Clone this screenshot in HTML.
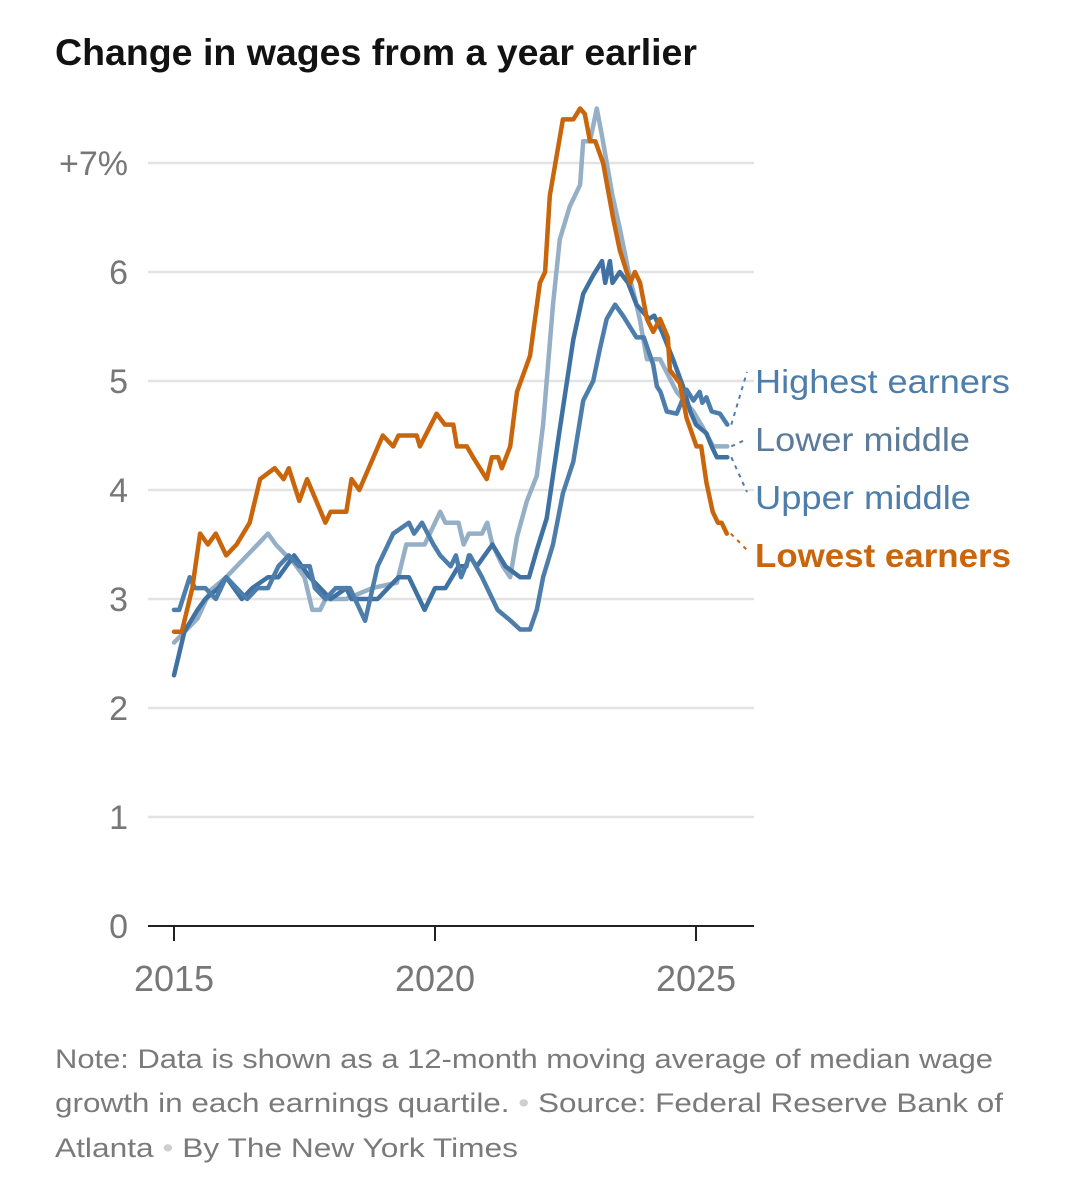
<!DOCTYPE html>
<html><head><meta charset="utf-8"><style>
html,body{margin:0;padding:0;background:#fff;}
svg{display:block;}
</style></head>
<body>
<svg id="chart" width="1070" height="1200" viewBox="0 0 1070 1200" xmlns="http://www.w3.org/2000/svg" font-family="'Liberation Sans', sans-serif">
<text x="55" y="65" font-family="'Liberation Sans Narrow','Liberation Sans',sans-serif" font-weight="bold" font-size="37" fill="#121212" textLength="642" lengthAdjust="spacingAndGlyphs">Change in wages from a year earlier</text>
<g id="grid"></g>
<g id="axes"></g>
<g id="lines"></g>
<g id="labels"></g>
<g font-size="27" fill="#7a7a7a">
<text x="55" y="1068" textLength="938" lengthAdjust="spacingAndGlyphs">Note: Data is shown as a 12-month moving average of median wage</text>
<text x="55" y="1112" textLength="948" lengthAdjust="spacingAndGlyphs">growth in each earnings quartile. <tspan fill="#cfcfcf">•</tspan> Source: Federal Reserve Bank of</text>
<text x="55" y="1157" textLength="463" lengthAdjust="spacingAndGlyphs">Atlanta <tspan fill="#cfcfcf">•</tspan> By The New York Times</text>
</g>
</svg>
<script>
const yTicks = [0,1,2,3,4,5,6,7];
const yTickLabels = ["0","1","2","3","4","5","6","+7%"];
const xTicks = [2015,2020,2025];
const xTickLabels = ["2015","2020","2025"];
const lowestYears = [2015,2015.15,2015.35,2015.5,2015.65,2015.8,2015.9,2016,2016.2,2016.45,2016.65,2016.93,2017.1,2017.2,2017.4,2017.55,2017.9,2018,2018.3,2018.4,2018.55,2019,2019.2,2019.3,2019.65,2019.71,2020.03,2020.19,2020.35,2020.42,2020.61,2020.73,2020.99,2021.09,2021.21,2021.28,2021.44,2021.57,2021.82,2022.01,2022.11,2022.2,2022.45,2022.65,2022.78,2022.87,2022.97,2023.07,2023.22,2023.41,2023.54,2023.74,2023.83,2023.93,2024.06,2024.18,2024.31,2024.46,2024.5,2024.69,2024.82,2025.01,2025.1,2025.2,2025.32,2025.42,2025.49,2025.59];
const lowestVals = [2.7,2.7,3.1,3.6,3.5,3.6,3.5,3.4,3.5,3.7,4.1,4.2,4.1,4.2,3.9,4.1,3.7,3.8,3.8,4.1,4.0,4.5,4.4,4.5,4.5,4.4,4.7,4.6,4.6,4.4,4.4,4.3,4.1,4.3,4.3,4.2,4.4,4.9,5.23,5.9,6.0,6.7,7.4,7.4,7.5,7.45,7.2,7.2,7.0,6.5,6.2,5.9,6.0,5.9,5.57,5.45,5.57,5.4,5.1,4.98,4.66,4.4,4.4,4.07,3.8,3.7,3.7,3.6];
const lowerMidYears = [2015,2015.45,2015.7,2016,2016.26,2016.5,2016.8,2016.95,2017.15,2017.3,2017.5,2017.65,2017.8,2017.9,2018.3,2018.8,2019.27,2019.45,2019.8,2020.1,2020.2,2020.45,2020.55,2020.65,2020.9,2021,2021.1,2021.3,2021.44,2021.57,2021.76,2021.95,2022.07,2022.26,2022.39,2022.58,2022.78,2022.84,2022.97,2023.1,2023.2,2023.4,2023.54,2023.74,2023.86,2023.93,2024.06,2024.31,2024.63,2024.95,2025.1,2025.33,2025.6];
const lowerMidVals = [2.6,2.82,3.08,3.2,3.33,3.45,3.6,3.5,3.4,3.33,3.2,2.9,2.9,3.0,3.0,3.1,3.15,3.5,3.5,3.8,3.7,3.7,3.5,3.6,3.6,3.7,3.5,3.3,3.2,3.57,3.9,4.13,4.6,5.7,6.3,6.6,6.8,7.2,7.2,7.5,7.25,6.7,6.4,5.93,5.7,5.55,5.2,5.2,4.9,4.72,4.6,4.4,4.4];
const upperMidYears = [2015,2015.2,2015.45,2015.6,2015.85,2016,2016.3,2016.5,2016.8,2017,2017.3,2017.6,2017.8,2018,2018.3,2018.4,2018.9,2019.1,2019.3,2019.5,2019.8,2020,2020.2,2020.45,2020.6,2020.65,2020.8,2021.1,2021.35,2021.63,2021.8,2021.95,2022.14,2022.39,2022.65,2022.84,2023.03,2023.2,2023.26,2023.35,2023.4,2023.54,2023.7,2023.86,2024.1,2024.2,2024.35,2024.56,2024.75,2024.89,2025,2025.2,2025.3,2025.4,2025.6];
const upperMidVals = [2.3,2.7,2.9,3.0,3.1,3.2,3.0,3.1,3.2,3.2,3.4,3.2,3.1,3.0,3.1,3.0,3.0,3.1,3.2,3.2,2.9,3.1,3.1,3.3,3.3,3.4,3.3,3.5,3.3,3.2,3.2,3.45,3.74,4.56,5.38,5.8,5.97,6.1,5.9,6.1,5.9,6.0,5.9,5.7,5.57,5.6,5.45,5.2,4.95,4.72,4.6,4.52,4.4,4.3,4.3];
const highestYears = [2015,2015.1,2015.3,2015.4,2015.6,2015.8,2016,2016.2,2016.4,2016.6,2016.8,2017,2017.2,2017.4,2017.6,2017.7,2017.9,2018.1,2018.37,2018.66,2018.9,2019.2,2019.5,2019.6,2019.75,2019.97,2020.1,2020.3,2020.4,2020.5,2020.67,2020.9,2021.2,2021.45,2021.63,2021.82,2021.95,2022.07,2022.26,2022.45,2022.65,2022.84,2023.03,2023.16,2023.29,2023.45,2023.6,2023.86,2024.0,2024.18,2024.25,2024.32,2024.44,2024.63,2024.82,2024.95,2025.07,2025.12,2025.2,2025.3,2025.46,2025.6];
const highestVals = [2.9,2.9,3.2,3.1,3.1,3.0,3.2,3.1,3.0,3.1,3.1,3.3,3.4,3.3,3.3,3.1,3.0,3.1,3.1,2.8,3.3,3.6,3.7,3.6,3.7,3.5,3.4,3.3,3.4,3.2,3.4,3.2,2.9,2.8,2.72,2.72,2.9,3.2,3.5,3.97,4.26,4.82,5.0,5.3,5.57,5.7,5.6,5.4,5.4,5.15,4.95,4.9,4.72,4.7,4.92,4.82,4.9,4.8,4.85,4.72,4.7,4.6];

const NS="http://www.w3.org/2000/svg";
const X0=148, X1=754;
function xs(yr){return 174+(yr-2015)*52.2;}
function ys(v){return 926-v*109;}
function mk(tag,attrs,parent){const e=document.createElementNS(NS,tag);for(const k in attrs)e.setAttribute(k,attrs[k]);parent.appendChild(e);return e;}
const grid=document.getElementById('grid'), axes=document.getElementById('axes'), lines=document.getElementById('lines'), labels=document.getElementById('labels');
yTicks.forEach((t,i)=>{
  if(t>0){const l=mk('line',{x1:X0,x2:X1,y1:ys(t),y2:ys(t),stroke:'#e3e3e3','stroke-width':2.5},grid);
  
  }
  const tx=mk('text',{x:128,y:ys(t)+12,'text-anchor':'end','font-size':34,fill:'#777'},axes);
  tx.textContent=yTickLabels[i];
  
  
});
const base=mk('line',{x1:X0,x2:X1,y1:926,y2:926,stroke:'#222','stroke-width':2},axes);


xTicks.forEach((t,i)=>{
  const tk=mk('line',{x1:xs(t),x2:xs(t),y1:926,y2:941,stroke:'#222','stroke-width':2},axes);
  
  
  const tx=mk('text',{x:xs(t),y:991,'text-anchor':'middle','font-size':36,fill:'#777'},axes);
  tx.textContent=xTickLabels[i];
  
  
});
function drawSeries(years,vals,color,name){
  const d=years.map((y,i)=>(i?'L':'M')+xs(y).toFixed(1)+','+ys(vals[i]).toFixed(1)).join(' ');
  const p=mk('path',{d:d,fill:'none',stroke:color,'stroke-width':4.5,'stroke-linejoin':'round','stroke-linecap':'round'},lines);
  
  
}
drawSeries(lowerMidYears,lowerMidVals,'#95afc6','line-lower-middle');
drawSeries(upperMidYears,upperMidVals,'#3f72a3','line-upper-middle');
drawSeries(highestYears,highestVals,'#4c7dab','line-highest-earners');
drawSeries(lowestYears,lowestVals,'#c9650b','line-lowest-earners');
function label(txt,y,endYr,endVal,color,bold,lead,name,w){
  const ex=xs(endYr)+4, ey=ys(endVal);
  const l=mk('line',{x1:ex,y1:ey,x2:747,y2:lead,stroke:color,'stroke-width':2,'stroke-dasharray':'4,5'},labels);
  
  
  const t=mk('text',{x:755,y:y,'font-size':33,fill:color,'font-weight':bold?'bold':'normal',textLength:w,lengthAdjust:'spacingAndGlyphs'},labels);
  t.textContent=txt;
  
  
}
label('Highest earners',393,highestYears[highestYears.length-1],highestVals[highestVals.length-1],'#4c7dab',false,372,'highest-earners',255);
label('Lower middle',451,lowerMidYears[lowerMidYears.length-1],lowerMidVals[lowerMidVals.length-1],'#5c7b98',false,439,'lower-middle',215);
label('Upper middle',509,upperMidYears[upperMidYears.length-1],upperMidVals[upperMidVals.length-1],'#4c7dab',false,492,'upper-middle',216);
label('Lowest earners',567,lowestYears[lowestYears.length-1],lowestVals[lowestVals.length-1],'#c9650b',true,550,'lowest-earners',256);
</script>
</body></html>
